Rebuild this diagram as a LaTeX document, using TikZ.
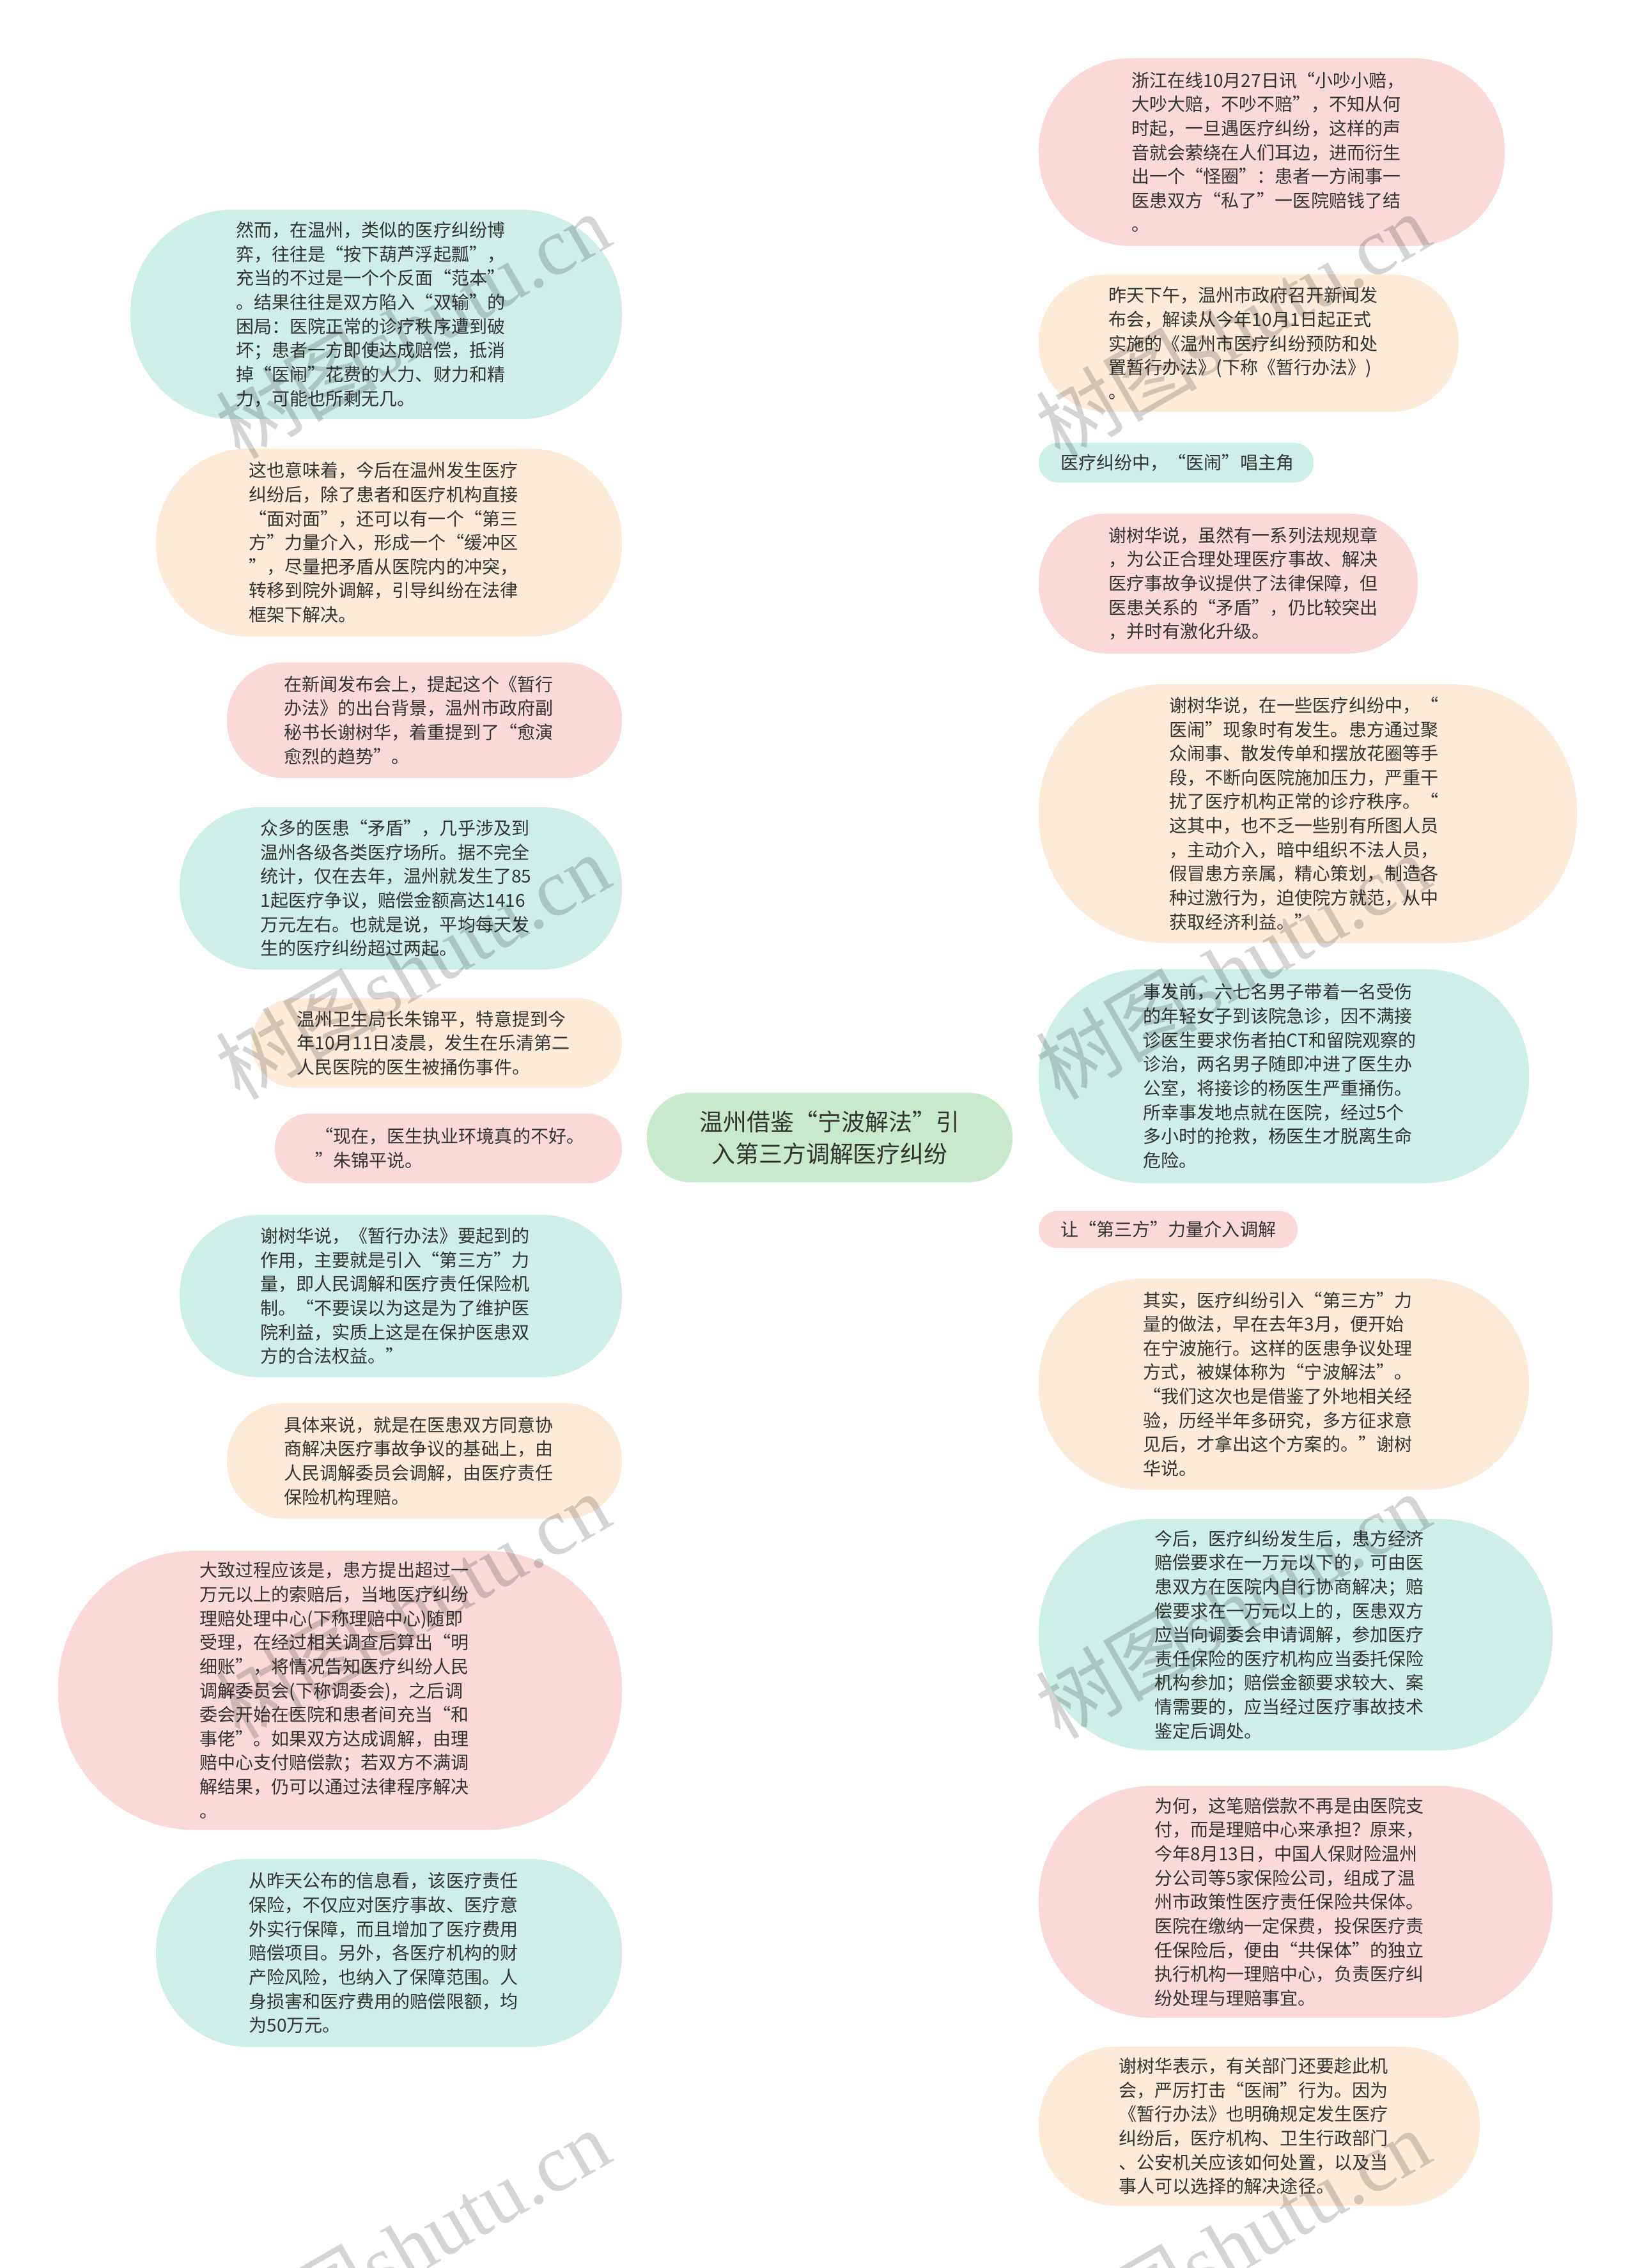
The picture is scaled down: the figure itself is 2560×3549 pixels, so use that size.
\documentclass[tikz,border=0pt]{standalone}
\usepackage{fontspec}
\setmainfont{Noto Sans CJK SC}
\newfontfamily\wmlatin{Liberation Serif}
\pgfdeclarelayer{bg}
\pgfdeclarelayer{top}
\pgfsetlayers{bg,main,top}
\definecolor{pinkf}{HTML}{FBD9D9}
\definecolor{peachf}{HTML}{FDEBD9}
\definecolor{mintf}{HTML}{CDEFE8}
\definecolor{greenf}{HTML}{C6EACB}
\definecolor{pinkl}{HTML}{F5BDBD}
\definecolor{peachl}{HTML}{F8DAB8}
\definecolor{mintl}{HTML}{A6E1D6}
\definecolor{textc}{HTML}{333333}
\tikzset{
 pill/.style n args={3}{fill=#3, draw=none, inner sep=0pt, minimum width=#1*0.01cm, minimum height=#2*0.01cm, rounded corners=#2*0.0049cm},
 txt/.style={anchor=west, align=left, inner sep=0pt, text=textc, text width=4.6cm, font=\fontsize{7.97pt}{10.7pt}\selectfont},
 link/.style={draw=#1, line width=0.7pt},
 wm/.style={text=black, opacity=0.17, rotate=30, font=\fontsize{36pt}{40pt}\selectfont, inner sep=0pt},
}
\begin{document}
\begin{tikzpicture}[x=0.01cm, y=-0.01cm]
\useasboundingbox (0,0) rectangle (2560,3549);
\fill[white] (0,0) rectangle (2560,3549);

% center
\node[pill={572}{140}{greenf}, align=center, text=textc, font=\fontsize{10.5pt}{14.2pt}\selectfont] (c) at (1298,1780) {温州借鉴“宁波解法”引\\入第三方调解医疗纠纷};

% left boxes
\node[pill={769}{328}{mintf}] (l1) at (588.5,492) {};
\node[pill={729}{294}{peachf}] (l2) at (608.5,849) {};
\node[pill={618}{181}{pinkf}] (l3) at (664,1127) {};
\node[pill={692}{254}{mintf}] (l4) at (627,1390) {};
\node[pill={579}{140}{peachf}] (l5) at (683.5,1632) {};
\node[pill={543}{109}{pinkf}] (l6) at (701.5,1797) {};
\node[pill={692}{254}{mintf}] (l7) at (627,2028) {};
\node[pill={618}{181}{peachf}] (l8) at (664,2286) {};
\node[pill={882}{437}{pinkf}] (l9) at (532,2645) {};
\node[pill={729}{294}{mintf}] (l10) at (608.5,3056) {};

% right boxes
\node[pill={729}{294}{pinkf}] (r1) at (1989.5,238) {};
\node[pill={657}{215}{peachf}] (r2) at (1953.5,537) {};
\node[pill={430}{62}{mintf}] (r3) at (1840,724) {};
\node[pill={593}{219}{pinkf}] (r4) at (1921.5,913) {};
\node[pill={842}{405}{peachf}] (r5) at (2046,1273) {};
\node[pill={767}{335}{mintf}] (r6) at (2008.5,1684) {};
\node[pill={405}{58}{pinkf}] (r7) at (1827.5,1924) {};
\node[pill={767}{330}{peachf}] (r8) at (2008.5,2166) {};
\node[pill={804}{362}{mintf}] (r9) at (2027,2558) {};
\node[pill={804}{363}{pinkf}] (r10) at (2027,2976) {};
\node[pill={690}{249}{peachf}] (r11) at (1970,3327) {};

% left texts
\node[txt] (l1t) at (369,492) {然而，在温州，类似的医疗纠纷博\\弈，往往是“按下葫芦浮起瓢”，\\充当的不过是一个个反面“范本”\\。结果往往是双方陷入“双输”的\\困局：医院正常的诊疗秩序遭到破\\坏；患者一方即使达成赔偿，抵消\\掉“医闹”花费的人力、财力和精\\力，可能也所剩无几。};
\node[txt] (l2t) at (389,849) {这也意味着，今后在温州发生医疗\\纠纷后，除了患者和医疗机构直接\\“面对面”，还可以有一个“第三\\方”力量介入，形成一个“缓冲区\\”，尽量把矛盾从医院内的冲突，\\转移到院外调解，引导纠纷在法律\\框架下解决。};
\node[txt] (l3t) at (444,1127) {在新闻发布会上，提起这个《暂行\\办法》的出台背景，温州市政府副\\秘书长谢树华，着重提到了“愈演\\愈烈的趋势”。};
\node[txt] (l4t) at (407,1390) {众多的医患“矛盾”，几乎涉及到\\温州各级各类医疗场所。据不完全\\统计，仅在去年，温州就发生了85\\1起医疗争议，赔偿金额高达1416\\万元左右。也就是说，平均每天发\\生的医疗纠纷超过两起。};
\node[txt] (l5t) at (464,1632) {温州卫生局长朱锦平，特意提到今\\年10月11日凌晨，发生在乐清第二\\人民医院的医生被捅伤事件。};
\node[txt] (l6t) at (493,1797) {“现在，医生执业环境真的不好。\\”朱锦平说。};
\node[txt] (l7t) at (407,2028) {谢树华说，《暂行办法》要起到的\\作用，主要就是引入“第三方”力\\量，即人民调解和医疗责任保险机\\制。“不要误以为这是为了维护医\\院利益，实质上这是在保护医患双\\方的合法权益。”};
\node[txt] (l8t) at (444,2286) {具体来说，就是在医患双方同意协\\商解决医疗事故争议的基础上，由\\人民调解委员会调解，由医疗责任\\保险机构理赔。};
\node[txt] (l9t) at (312,2645) {大致过程应该是，患方提出超过一\\万元以上的索赔后，当地医疗纠纷\\理赔处理中心(下称理赔中心)随即\\受理，在经过相关调查后算出“明\\细账”，将情况告知医疗纠纷人民\\调解委员会(下称调委会)，之后调\\委会开始在医院和患者间充当“和\\事佬”。如果双方达成调解，由理\\赔中心支付赔偿款；若双方不满调\\解结果，仍可以通过法律程序解决\\。};
\node[txt] (l10t) at (389,3056) {从昨天公布的信息看，该医疗责任\\保险，不仅应对医疗事故、医疗意\\外实行保障，而且增加了医疗费用\\赔偿项目。另外，各医疗机构的财\\产险风险，也纳入了保障范围。人\\身损害和医疗费用的赔偿限额，均\\为50万元。};

% right texts
\node[txt] (r1t) at (1770,238) {浙江在线10月27日讯“小吵小赔，\\大吵大赔，不吵不赔”，不知从何\\时起，一旦遇医疗纠纷，这样的声\\音就会萦绕在人们耳边，进而衍生\\出一个“怪圈”：患者一方闹事一\\医患双方“私了”一医院赔钱了结\\。};
\node[txt] (r2t) at (1734,537) {昨天下午，温州市政府召开新闻发\\布会，解读从今年10月1日起正式\\实施的《温州市医疗纠纷预防和处\\置暂行办法》(下称《暂行办法》)\\。};
\node[txt] (r3t) at (1659,724) {医疗纠纷中，“医闹”唱主角};
\node[txt] (r4t) at (1734,913) {谢树华说，虽然有一系列法规规章\\，为公正合理处理医疗事故、解决\\医疗事故争议提供了法律保障，但\\医患关系的“矛盾”，仍比较突出\\，并时有激化升级。};
\node[txt] (r5t) at (1829,1273) {谢树华说，在一些医疗纠纷中，“\\医闹”现象时有发生。患方通过聚\\众闹事、散发传单和摆放花圈等手\\段，不断向医院施加压力，严重干\\扰了医疗机构正常的诊疗秩序。“\\这其中，也不乏一些别有所图人员\\，主动介入，暗中组织不法人员，\\假冒患方亲属，精心策划，制造各\\种过激行为，迫使院方就范，从中\\获取经济利益。”};
\node[txt] (r6t) at (1788,1684) {事发前，六七名男子带着一名受伤\\的年轻女子到该院急诊，因不满接\\诊医生要求伤者拍CT和留院观察的\\诊治，两名男子随即冲进了医生办\\公室，将接诊的杨医生严重捅伤。\\所幸事发地点就在医院，经过5个\\多小时的抢救，杨医生才脱离生命\\危险。};
\node[txt] (r7t) at (1659,1924) {让“第三方”力量介入调解};
\node[txt] (r8t) at (1788,2166) {其实，医疗纠纷引入“第三方”力\\量的做法，早在去年3月，便开始\\在宁波施行。这样的医患争议处理\\方式，被媒体称为“宁波解法”。\\“我们这次也是借鉴了外地相关经\\验，历经半年多研究，多方征求意\\见后，才拿出这个方案的。”谢树\\华说。};
\node[txt] (r9t) at (1806,2558) {今后，医疗纠纷发生后，患方经济\\赔偿要求在一万元以下的，可由医\\患双方在医院内自行协商解决；赔\\偿要求在一万元以上的，医患双方\\应当向调委会申请调解，参加医疗\\责任保险的医疗机构应当委托保险\\机构参加；赔偿金额要求较大、案\\情需要的，应当经过医疗事故技术\\鉴定后调处。};
\node[txt] (r10t) at (1806,2976) {为何，这笔赔偿款不再是由医院支\\付，而是理赔中心来承担？原来，\\今年8月13日，中国人保财险温州\\分公司等5家保险公司，组成了温\\州市政策性医疗责任保险共保体。\\医院在缴纳一定保费，投保医疗责\\任保险后，便由“共保体”的独立\\执行机构一理赔中心，负责医疗纠\\纷处理与理赔事宜。};
\node[txt] (r11t) at (1750,3327) {谢树华表示，有关部门还要趁此机\\会，严厉打击“医闹”行为。因为\\《暂行办法》也明确规定发生医疗\\纠纷后，医疗机构、卫生行政部门\\、公安机关应该如何处置，以及当\\事人可以选择的解决途径。};

% connectors
\begin{pgfonlayer}{bg}
\draw[link=mintl] (c.center) .. controls (c.center |- l1.east) .. (l1.east);
\draw[link=peachl] (c.center) .. controls (c.center |- l2.east) .. (l2.east);
\draw[link=pinkl] (c.center) .. controls (c.center |- l3.east) .. (l3.east);
\draw[link=mintl] (c.center) .. controls (c.center |- l4.east) .. (l4.east);
\draw[link=peachl] (c.center) .. controls (c.center |- l5.east) .. (l5.east);
\draw[link=pinkl] (c.center) .. controls (c.center |- l6.east) .. (l6.east);
\draw[link=mintl] (c.center) .. controls (c.center |- l7.east) .. (l7.east);
\draw[link=peachl] (c.center) .. controls (c.center |- l8.east) .. (l8.east);
\draw[link=pinkl] (c.center) .. controls (c.center |- l9.east) .. (l9.east);
\draw[link=mintl] (c.center) .. controls (c.center |- l10.east) .. (l10.east);
\draw[link=pinkl] (c.center) .. controls (c.center |- r1.west) .. (r1.west);
\draw[link=peachl] (c.center) .. controls (c.center |- r2.west) .. (r2.west);
\draw[link=mintl] (c.center) .. controls (c.center |- r3.west) .. (r3.west);
\draw[link=pinkl] (c.center) .. controls (c.center |- r4.west) .. (r4.west);
\draw[link=peachl] (c.center) .. controls (c.center |- r5.west) .. (r5.west);
\draw[link=mintl] (c.center) .. controls (c.center |- r6.west) .. (r6.west);
\draw[link=pinkl] (c.center) .. controls (c.center |- r7.west) .. (r7.west);
\draw[link=peachl] (c.center) .. controls (c.center |- r8.west) .. (r8.west);
\draw[link=mintl] (c.center) .. controls (c.center |- r9.west) .. (r9.west);
\draw[link=pinkl] (c.center) .. controls (c.center |- r10.west) .. (r10.west);
\draw[link=peachl] (c.center) .. controls (c.center |- r11.west) .. (r11.west);
\end{pgfonlayer}

% watermarks
\begin{pgfonlayer}{top}
\node[wm] (w1) at (645,509) {树图{\wmlatin shutu.cn}};
\node[wm] (w2) at (1928,509) {树图{\wmlatin shutu.cn}};
\node[wm] (w3) at (645,1512) {树图{\wmlatin shutu.cn}};
\node[wm] (w4) at (1928,1512) {树图{\wmlatin shutu.cn}};
\node[wm] (w5) at (645,2512) {树图{\wmlatin shutu.cn}};
\node[wm] (w6) at (1928,2512) {树图{\wmlatin shutu.cn}};
\node[wm] (w7) at (645,3508) {树图{\wmlatin shutu.cn}};
\node[wm] (w8) at (1928,3508) {树图{\wmlatin shutu.cn}};
\end{pgfonlayer}
\end{tikzpicture}
\end{document}
